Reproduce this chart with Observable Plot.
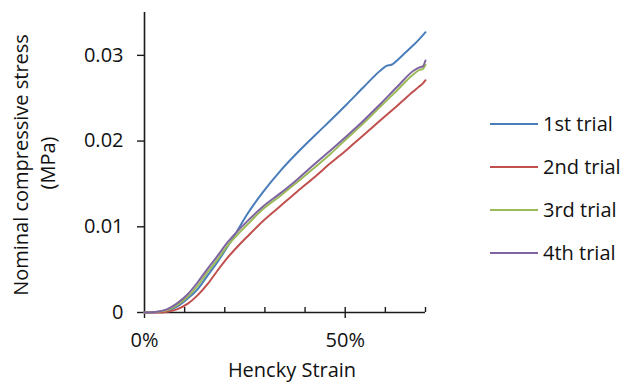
<!DOCTYPE html>
<html>
<head>
<meta charset="utf-8">
<script src="https://cdn.jsdelivr.net/npm/d3@7"></script>
<script src="https://cdn.jsdelivr.net/npm/@observablehq/plot@0.6"></script>
<style>
  html, body { margin: 0; padding: 0; background: #fff; }
  #wrap { position: relative; width: 622px; height: 382px; overflow: hidden; font-family: "Open Sans", sans-serif; color: #111; }
  #wrap svg { display: block; }
  .ytitle { position: absolute; white-space: nowrap; font-size: 20px; transform: translate(-50%, -50%) rotate(-90deg); line-height: 1; }
  .xtitle { position: absolute; white-space: nowrap; font-size: 20px; transform: translate(-50%, -50%); line-height: 1; }
  .leg { position: absolute; left: 490px; display: flex; align-items: center; font-size: 20px; white-space: nowrap; transform: translateY(-50%); line-height: 1; }
  .leg span.sw { display: inline-block; width: 48px; height: 0; border-top: 2px solid; margin-right: 5px; }
</style>
</head>
<body>
<div id="wrap"></div>
<script>
// Series names and colours
const trialNames = ["1st trial", "2nd trial", "3rd trial", "4th trial"];
const trialColors = ["#4a7ebb", "#c0504d", "#9bbb59", "#8064a2"];

// Hencky strain (%) for 1st trial
const strain1 = [0, 3.2, 5.7, 8.2, 10.7, 13.2, 15.7, 18.2, 20.7, 23.2, 25.5, 29.6, 33.8, 38, 42.1, 46.3, 50.4, 54.6, 58.7, 60.4, 61.5, 62.9, 64.5, 67, 68.3, 70];
const trial1 = [0, 0.00005, 0.0002, 0.0007, 0.0016, 0.0027, 0.0043, 0.0059, 0.0077, 0.0096, 0.0114, 0.0141, 0.0165, 0.0186, 0.0205, 0.0224, 0.0243, 0.0263, 0.0282, 0.0288, 0.0289, 0.0294, 0.0301, 0.0312, 0.0318, 0.0327];

// Hencky strain (%) for 2nd-4th trials
const strain = [0, 3.2, 5.7, 8.2, 10.7, 13.2, 15.7, 18.2, 20.7, 23.2, 25.5, 29.6, 33.8, 38, 42.1, 46.3, 50.4, 54.6, 58.7, 62.9, 67, 68.5, 69.3, 70];
const trial2 = [0, 0, 0.0001, 0.0004, 0.0010, 0.0020, 0.0033, 0.0049, 0.0064, 0.0077, 0.0088, 0.0107, 0.0124, 0.0141, 0.0157, 0.0174, 0.0190, 0.0207, 0.0224, 0.0241, 0.0258, 0.0264, 0.0267, 0.0271];
const trial3 = [0, 0.0001, 0.0003, 0.0009, 0.0018, 0.0031, 0.0047, 0.0062, 0.0078, 0.0091, 0.0102, 0.0121, 0.0136, 0.0152, 0.0168, 0.0185, 0.0203, 0.0221, 0.0240, 0.0259, 0.0278, 0.0283, 0.0284, 0.0289];
const trial4 = [0, 0.0001, 0.0004, 0.0011, 0.0021, 0.0035, 0.0051, 0.0066, 0.0082, 0.0095, 0.0106, 0.0124, 0.0139, 0.0155, 0.0172, 0.0189, 0.0206, 0.0224, 0.0243, 0.0263, 0.0282, 0.0286, 0.0287, 0.0294];

// Tick values
const yTicks = [0, 0.01, 0.02, 0.03];
const xMajorTicks = [0, 50];
const xMinorTicks = [10, 20, 30, 40, 50, 60, 70];

const xLabel = "Hencky Strain";
const yLabelLines = ["Nominal compressive stress", "(MPa)"];

const series = [
  [strain1, trial1],
  [strain, trial2],
  [strain, trial3],
  [strain, trial4]
];
const data = series.flatMap(([xs, ys], i) => xs.map((x, j) => ({strain: x, stress: ys[j], trial: trialNames[i]})));

const axisColor = "#1a1a1a";
const chart = Plot.plot({
  width: 622,
  height: 382,
  marginLeft: 144,
  marginRight: 197,
  marginTop: 12,
  marginBottom: 70,
  style: {fontFamily: "Open Sans, sans-serif", fontSize: "20px", color: "#111", background: "white"},
  x: {domain: [0, 70], label: null},
  y: {domain: [0, 0.035], label: null},
  color: {domain: trialNames, range: trialColors},
  marks: [
    Plot.axisY({ticks: yTicks, tickSize: 7, tickPadding: 14, stroke: axisColor, strokeWidth: 1.4,
      tickFormat: d => d === 0 ? "0" : d.toFixed(2), label: null, fill: "#111"}),
    Plot.axisX({ticks: xMinorTicks, tickSize: -5, tickFormat: () => "", stroke: axisColor, strokeWidth: 1.4, label: null}),
    Plot.axisX({ticks: xMajorTicks, tickSize: 6, tickPadding: 14, stroke: axisColor, strokeWidth: 1.4,
      tickFormat: d => d + "%", label: null, fill: "#111"}),
    Plot.ruleX([0], {stroke: axisColor, strokeWidth: 1.6}),
    Plot.ruleY([0], {stroke: axisColor, strokeWidth: 1.6}),
    Plot.line(data, {x: "strain", y: "stress", stroke: "trial", strokeWidth: 2, curve: "monotone-x"})
  ]
});

const wrap = document.getElementById("wrap");
wrap.appendChild(chart);

// Axis titles
const yt1 = document.createElement("div");
yt1.className = "ytitle"; yt1.textContent = yLabelLines[0];
yt1.style.left = "21px"; yt1.style.top = "165px";
wrap.appendChild(yt1);
const yt2 = document.createElement("div");
yt2.className = "ytitle"; yt2.textContent = yLabelLines[1];
yt2.style.left = "48px"; yt2.style.top = "163px";
wrap.appendChild(yt2);
const xt = document.createElement("div");
xt.className = "xtitle"; xt.textContent = xLabel;
xt.style.left = "292px"; xt.style.top = "370px";
wrap.appendChild(xt);

// Legend
trialNames.forEach((name, i) => {
  const row = document.createElement("div");
  row.className = "leg";
  row.style.top = (124 + i * 43) + "px";
  const sw = document.createElement("span");
  sw.className = "sw"; sw.style.borderTopColor = trialColors[i];
  row.appendChild(sw);
  row.appendChild(document.createTextNode(name));
  wrap.appendChild(row);
});
</script>
</body>
</html>
